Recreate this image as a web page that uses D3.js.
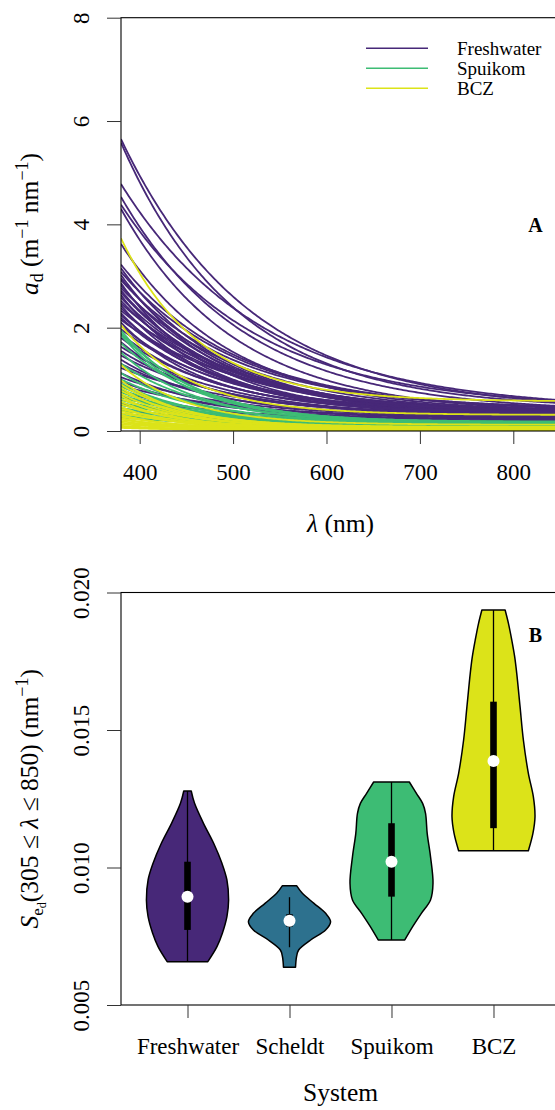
<!DOCTYPE html>
<html><head><meta charset="utf-8">
<script src="https://cdn.jsdelivr.net/npm/d3@7"></script>
<style>
html,body{margin:0;padding:0;background:#fff;}
svg, svg text{font-family:"Liberation Serif","Times New Roman",serif;}
</style></head><body>
<svg id="chart" width="555" height="1110"></svg>
<script>
// ---------- DATA ----------
const legendSystems = ["Freshwater", "Spuikom", "BCZ"];
const wavelengthTicks = [400, 500, 600, 700, 800];
const absorptionTicks = [0, 2, 4, 6, 8];
// each curve: [a_d at 380 nm, spectral slope S, offset K]
const freshwaterCurves = [
  [5.65,0.0072,0.38],[5.58,0.0080,0.42],[4.78,0.0066,0.40],[4.53,0.0075,0.36],[4.38,0.0070,0.44],
  [4.30,0.0082,0.33],[3.62,0.0085,0.35],[3.22,0.0080,0.40],[3.15,0.0088,0.30],[3.08,0.0078,0.38],
  [3.02,0.0095,0.33],[2.96,0.0085,0.28],[2.92,0.0080,0.42],[2.86,0.0100,0.30],[2.82,0.0088,0.36],
  [2.77,0.0076,0.32],[2.72,0.0092,0.40],[2.68,0.0084,0.27],[2.63,0.0105,0.35],[2.58,0.0082,0.30],
  [2.52,0.0090,0.38],[2.47,0.0078,0.33],[2.43,0.0098,0.29],[2.38,0.0086,0.36],[2.33,0.0074,0.31],
  [2.28,0.0102,0.40],[2.24,0.0084,0.26],[2.19,0.0090,0.34],[2.15,0.0072,0.30],[2.10,0.0108,0.37],
  [2.04,0.0088,0.32],[1.97,0.0080,0.28],[1.88,0.0096,0.35],[1.80,0.0086,0.30],[1.72,0.0110,0.33],
  [1.63,0.0084,0.27],[1.55,0.0094,0.31],[1.46,0.0080,0.25],[1.38,0.0104,0.30],[1.30,0.0090,0.26],
  [1.22,0.0074,0.28],[1.12,0.0100,0.24],[1.04,0.0086,0.27],[0.96,0.0096,0.22],[0.88,0.0082,0.25],
  [0.78,0.0106,0.20],[0.66,0.0092,0.22],[0.52,0.0088,0.18],[0.40,0.0096,0.15]
];
const spuikomCurves = [
  [1.95,0.0125,0.17],[1.90,0.0118,0.15],[1.86,0.0130,0.18],[1.70,0.0110,0.14],[1.52,0.0122,0.16],
  [1.30,0.0105,0.13],[1.12,0.0115,0.15],[1.00,0.0100,0.12],[0.92,0.0120,0.14],[0.86,0.0108,0.13],
  [0.80,0.0095,0.11],[0.75,0.0112,0.15],[0.70,0.0102,0.12],[0.65,0.0090,0.10],[0.60,0.0105,0.13],
  [0.55,0.0098,0.11],[0.50,0.0085,0.12],[0.45,0.0100,0.10],[0.40,0.0092,0.11],[0.34,0.0080,0.09],
  [0.30,0.0095,0.10],[0.26,0.0088,0.08]
];
const bczCurves = [
  [3.73,0.0120,0.57],[2.05,0.0130,0.31],[1.28,0.0140,0.12],[0.98,0.0150,0.08],[0.90,0.0135,0.06],
  [0.84,0.0160,0.07],[0.78,0.0125,0.05],[0.72,0.0145,0.06],[0.68,0.0170,0.04],[0.62,0.0130,0.05],
  [0.57,0.0155,0.04],[0.52,0.0140,0.05],[0.47,0.0180,0.03],[0.43,0.0135,0.04],[0.39,0.0150,0.03],
  [0.35,0.0125,0.04],[0.31,0.0165,0.03],[0.28,0.0140,0.02],[0.25,0.0190,0.03],[0.22,0.0130,0.02],
  [0.19,0.0150,0.02],[0.16,0.0140,0.02],[0.13,0.0120,0.02],[0.10,0.0135,0.01],[0.08,0.0150,0.01],
  [0.06,0.0130,0.01]
];

const systems = ["Freshwater", "Scheldt", "Spuikom", "BCZ"];
const slopeTicks = [0.005, 0.010, 0.015, 0.020];
// violin profiles: [S value, relative density width]
const freshwaterViolin = [[0.012782,0.09],[0.012333,0.17],[0.011607,0.385],[0.010880,0.63],[0.010153,0.83],
  [0.009545,0.95],[0.008818,0.99],[0.008211,0.95],[0.007607,0.84],[0.007120,0.71],[0.006575,0.49]];
const scheldtViolin = [[0.009339,0.17],[0.009061,0.31],[0.008697,0.59],[0.008333,0.87],[0.008030,0.99],
  [0.007727,0.87],[0.007364,0.51],[0.007000,0.22],[0.006758,0.17],[0.006370,0.145]];
const spuikomViolin = [[0.013109,0.43],[0.012697,0.60],[0.012333,0.75],[0.011970,0.82],[0.011242,0.86],
  [0.010394,0.94],[0.009424,1.0],[0.008818,0.94],[0.008333,0.72],[0.007848,0.51],[0.007364,0.32]];
const bczViolin = [[0.019364,0.28],[0.018879,0.36],[0.018273,0.44],[0.017667,0.51],[0.017061,0.56],
  [0.015848,0.64],[0.014636,0.72],[0.013424,0.84],[0.012576,0.96],[0.011848,1.0],[0.011242,0.95],[0.010612,0.84]];
// box stats: [whisker low, Q1, median, Q3, whisker high]
const freshwaterBox = [0.006575, 0.00773, 0.00894, 0.01021, 0.01278];
const scheldtBox = [0.00710, 0.00785, 0.00806, 0.00830, 0.00892];
const spuikomBox = [0.007364, 0.00894, 0.01021, 0.01161, 0.01311];
const bczBox = [0.01061, 0.01143, 0.01387, 0.01603, 0.01936];

// ---------- STYLE ----------
const colors = {Freshwater:"#472878", Scheldt:"#2D718E", Spuikom:"#3DBC74", BCZ:"#DCE319"};
const svg = d3.select("#chart");
const L = 121, R = 560;
const tickFont = 23, titleFont = 25.5;

// ---------- PANEL A ----------
const xA = d3.scaleLinear().domain([380, 850]).range([L, R]);
const yA = d3.scaleLinear().domain([0, 8]).range([431, 17.7]);
const gA = svg.append("g");
gA.append("defs").append("clipPath").attr("id","clipA").append("rect")
  .attr("x", L).attr("y", yA(8)).attr("width", R-L).attr("height", yA(0)-yA(8));

const lambdas = d3.range(380, 851, 2);
const line = d3.line().x(d => xA(d[0])).y(d => yA(d[1]));
function curvePoints(c){ return lambdas.map(l => [l, c[2] + (c[0]-c[2])*Math.exp(-c[1]*(l-380))]); }
const curveGroups = [["Freshwater", freshwaterCurves], ["Spuikom", spuikomCurves], ["BCZ", bczCurves]];
const linesG = gA.append("g").attr("clip-path","url(#clipA)");
curveGroups.forEach(([name, arr]) => {
  linesG.selectAll(null).data(arr).enter().append("path")
    .attr("d", c => line(curvePoints(c)))
    .attr("fill","none").attr("stroke", colors[name]).attr("stroke-width", 1.8);
});
// frame
gA.append("rect").attr("x", L).attr("y", yA(8)).attr("width", R-L).attr("height", yA(0)-yA(8))
  .attr("fill","none").attr("stroke","#000").attr("stroke-width",1.1);
// axes
const axAx = gA.append("g").attr("transform",`translate(0,${yA(0)})`)
  .call(d3.axisBottom(xA).tickValues(wavelengthTicks).tickSize(13));
const axAy = gA.append("g").attr("transform",`translate(${L},0)`)
  .call(d3.axisLeft(yA).tickValues(absorptionTicks).tickSize(14));
[axAx, axAy].forEach(a => { a.attr("font-family", null); a.select(".domain").remove(); a.selectAll("line").attr("stroke","#333").attr("stroke-width",1); });
axAx.selectAll("text").attr("font-size", tickFont).attr("fill","#000").attr("dy", null).attr("y", 49);
axAy.selectAll("text").attr("font-size", tickFont).attr("fill","#000")
  .attr("x", null).attr("dy", null).attr("text-anchor","middle")
  .attr("transform", "translate(-32,0) rotate(-90)").attr("y", 0);

// legend
const legG = gA.append("g");
legendSystems.forEach((s, i) => {
  const yy = 48.3 + i*20;
  legG.append("line").attr("x1", 366).attr("x2", 428).attr("y1", yy).attr("y2", yy)
    .attr("stroke", colors[s]).attr("stroke-width", 1.6);
  legG.append("text").attr("x", 457).attr("y", yy + 6.5).attr("font-size", 19).text(s);
});
gA.append("text").attr("x", 535.5).attr("y", 232).attr("text-anchor","middle")
  .attr("font-size", 20).attr("font-weight","bold").text("A");

// axis titles A
const tA = gA.append("text").attr("transform","translate(38,224) rotate(-90)")
  .attr("text-anchor","middle").attr("font-size", titleFont);
tA.append("tspan").attr("font-style","italic").text("a");
tA.append("tspan").attr("font-size",18).attr("dy",5).text("d");
tA.append("tspan").attr("dy",-5).text(" (m");
tA.append("tspan").attr("font-size",18).attr("dy",-10).text("−1");
tA.append("tspan").attr("dy",10).text(" nm");
tA.append("tspan").attr("font-size",18).attr("dy",-10).text("−1");
tA.append("tspan").attr("dy",10).text(")");
const xtA = gA.append("text").attr("x", (L+R)/2).attr("y", 532).attr("text-anchor","middle").attr("font-size", titleFont);
xtA.append("tspan").attr("font-style","italic").text("λ");
xtA.append("tspan").text(" (nm)");

// ---------- PANEL B ----------
const xB = d3.scalePoint().domain(systems).range([L, R]).padding(0.652);
const yB = d3.scaleLinear().domain([0.005, 0.020]).range([1005, 592.5]);
const wB = d3.scaleLinear().domain([0, 1]).range([0, 41.5]);
const gB = svg.append("g");
const violins = {Freshwater: freshwaterViolin, Scheldt: scheldtViolin, Spuikom: spuikomViolin, BCZ: bczViolin};
const boxes = {Freshwater: freshwaterBox, Scheldt: scheldtBox, Spuikom: spuikomBox, BCZ: bczBox};
systems.forEach(s => {
  const cx = xB(s);
  const area = d3.area().y(d => yB(d[0])).x0(d => cx - wB(d[1])).x1(d => cx + wB(d[1]))
    .curve(d3.curveCatmullRom.alpha(0.5));
  gB.append("path").attr("d", area(violins[s])).attr("fill", colors[s])
    .attr("stroke","#000").attr("stroke-width",1.5).attr("stroke-linejoin","round");
  const b = boxes[s];
  gB.append("line").attr("x1",cx).attr("x2",cx).attr("y1",yB(b[0])).attr("y2",yB(b[4]))
    .attr("stroke","#000").attr("stroke-width",1.3);
  gB.append("rect").attr("x",cx-3.3).attr("width",6.6).attr("y",yB(b[3])).attr("height",yB(b[1])-yB(b[3]))
    .attr("fill","#000");
  gB.append("circle").attr("cx",cx).attr("cy",yB(b[2])).attr("r",6).attr("fill","#fff");
});
gB.append("rect").attr("x", L).attr("y", yB(0.020)).attr("width", R-L).attr("height", yB(0.005)-yB(0.020))
  .attr("fill","none").attr("stroke","#000").attr("stroke-width",1.1);
const axBx = gB.append("g").attr("transform",`translate(0,${yB(0.005)})`)
  .call(d3.axisBottom(xB).tickSize(13));
const axBy = gB.append("g").attr("transform",`translate(${L},0)`)
  .call(d3.axisLeft(yB).tickValues(slopeTicks).tickSize(14).tickFormat(d3.format(".3f")));
[axBx, axBy].forEach(a => { a.attr("font-family", null); a.select(".domain").remove(); a.selectAll("line").attr("stroke","#333").attr("stroke-width",1); });
axBx.selectAll("text").attr("font-size", tickFont).attr("fill","#000").attr("dy", null).attr("y", 49);
axBy.selectAll("text").attr("font-size", tickFont).attr("fill","#000")
  .attr("x", null).attr("dy", null).attr("text-anchor","middle")
  .attr("transform", "translate(-32,0) rotate(-90)").attr("y", 0);
gB.append("text").attr("x", 535.5).attr("y", 642).attr("text-anchor","middle")
  .attr("font-size", 20).attr("font-weight","bold").text("B");

const tB = gB.append("text").attr("transform",`translate(38,${(yB(0.005)+yB(0.020))/2}) rotate(-90)`)
  .attr("text-anchor","middle").attr("font-size", titleFont);
tB.append("tspan").attr("font-style","italic").text("S");
tB.append("tspan").attr("font-size",17).attr("dy",5).text("e");
tB.append("tspan").attr("font-size",12).attr("dy",3).text("d");
tB.append("tspan").attr("dy",-8).text("(305 ≤ ");
tB.append("tspan").attr("font-style","italic").text("λ");
tB.append("tspan").text(" ≤ 850) (nm");
tB.append("tspan").attr("font-size",18).attr("dy",-10).text("−1");
tB.append("tspan").attr("dy",10).text(")");
gB.append("text").attr("x", (L+R)/2).attr("y", 1101).attr("text-anchor","middle")
  .attr("font-size", titleFont).text("System");
</script>
</body></html>
